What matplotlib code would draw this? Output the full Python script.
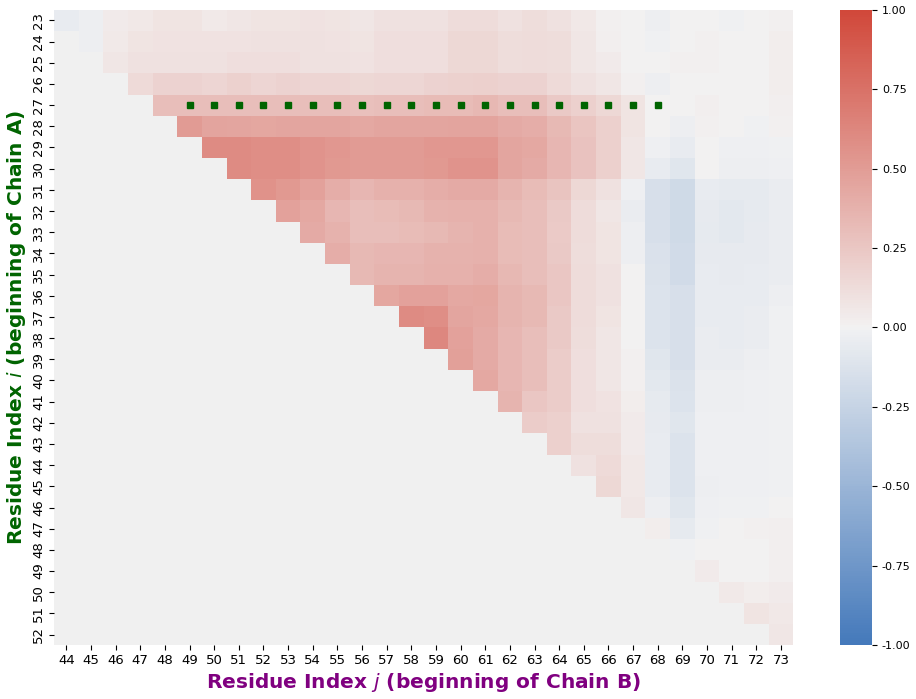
import numpy as np
import matplotlib
matplotlib.use('Agg')
import matplotlib.pyplot as plt
import seaborn as sns

#-------------------------------------
# Data: upper triangle, one list per row i (starting at the diagonal)
#-------------------------------------
rows_i = list(range(23, 53))
cols_j = list(range(44, 74))

upper_rows = [
    [-0.05, -0.03, 0.04, 0.06, 0.08, 0.08, 0.05, 0.07, 0.08, 0.08,
     0.09, 0.08, 0.07, 0.10, 0.10, 0.10, 0.13, 0.13, 0.10, 0.12,
     0.10, 0.06, 0.01, 0.0, -0.03, 0.0, 0.0, -0.01, 0.0, 0.01],
    [-0.03, 0.05, 0.08, 0.09, 0.09, 0.09, 0.09, 0.10, 0.10,
     0.10, 0.09, 0.08, 0.11, 0.11, 0.11, 0.15, 0.15, 0.12, 0.13,
     0.12, 0.07, 0.02, 0.0, -0.01, 0.0, 0.01, 0.0, 0.0, 0.03],
    [0.07, 0.10, 0.10, 0.10, 0.10, 0.11, 0.11, 0.11,
     0.10, 0.10, 0.09, 0.11, 0.11, 0.11, 0.15, 0.15, 0.12, 0.13,
     0.12, 0.07, 0.04, 0.0, 0.0, 0.01, 0.01, 0.0, 0.0, 0.03],
    [0.14, 0.18, 0.18, 0.17, 0.19, 0.17, 0.18,
     0.17, 0.17, 0.15, 0.16, 0.16, 0.18, 0.19, 0.20, 0.18, 0.18,
     0.14, 0.10, 0.07, 0.01, -0.03, 0.0, 0.0, 0.0, 0.0, 0.03],
    [0.30, 0.30, 0.30, 0.30, 0.30, 0.30,
     0.30, 0.30, 0.29, 0.30, 0.30, 0.32, 0.32, 0.34, 0.30, 0.30,
     0.24, 0.20, 0.15, 0.08, 0.0, 0.0, 0.02, 0.0, 0.0, 0.02],
    [0.50, 0.46, 0.45, 0.44, 0.45,
     0.45, 0.45, 0.43, 0.45, 0.45, 0.45, 0.46, 0.46, 0.42, 0.40,
     0.33, 0.26, 0.20, 0.08, 0.0, -0.03, 0.01, 0.0, -0.01, 0.01],
    [0.60, 0.60, 0.58, 0.58,
     0.55, 0.53, 0.50, 0.50, 0.50, 0.53, 0.53, 0.53, 0.45, 0.43,
     0.35, 0.28, 0.20, 0.07, -0.02, -0.05, 0.0, -0.02, -0.02, -0.01],
    [0.60, 0.58, 0.58,
     0.55, 0.52, 0.50, 0.50, 0.50, 0.52, 0.55, 0.55, 0.45, 0.42,
     0.35, 0.28, 0.20, 0.07, -0.05, -0.10, 0.0, -0.03, -0.03, -0.02],
    [0.56, 0.52,
     0.47, 0.40, 0.35, 0.38, 0.38, 0.40, 0.42, 0.42, 0.36, 0.32,
     0.27, 0.15, 0.10, -0.02, -0.15, -0.20, -0.05, -0.07, -0.07, -0.04],
    [0.47,
     0.43, 0.35, 0.30, 0.32, 0.33, 0.37, 0.38, 0.38, 0.33, 0.30,
     0.24, 0.13, 0.07, -0.04, -0.15, -0.20, -0.06, -0.08, -0.07, -0.04],
    [0.42, 0.37, 0.30, 0.30, 0.32, 0.33, 0.36, 0.38, 0.32, 0.30,
     0.23, 0.13, 0.08, -0.03, -0.15, -0.20, -0.07, -0.08, -0.06, -0.04],
    [0.40, 0.33, 0.35, 0.35, 0.37, 0.37, 0.38, 0.32, 0.30,
     0.24, 0.12, 0.08, -0.03, -0.14, -0.18, -0.06, -0.06, -0.06, -0.04],
    [0.33, 0.36, 0.36, 0.38, 0.38, 0.40, 0.34, 0.30,
     0.25, 0.13, 0.10, 0.0, -0.13, -0.18, -0.05, -0.06, -0.05, -0.04],
    [0.44, 0.47, 0.47, 0.43, 0.44, 0.36, 0.33,
     0.25, 0.13, 0.10, 0.0, -0.12, -0.15, -0.05, -0.05, -0.05, -0.03],
    [0.60, 0.58, 0.45, 0.43, 0.36, 0.33,
     0.24, 0.13, 0.08, 0.0, -0.12, -0.15, -0.05, -0.05, -0.04, -0.01],
    [0.62, 0.47, 0.42, 0.35, 0.30,
     0.24, 0.12, 0.07, 0.0, -0.12, -0.15, -0.04, -0.05, -0.04, -0.01],
    [0.48, 0.42, 0.35, 0.30,
     0.22, 0.11, 0.07, 0.01, -0.10, -0.15, -0.04, -0.04, -0.03, -0.01],
    [0.43, 0.35, 0.30,
     0.22, 0.11, 0.07, 0.01, -0.08, -0.13, -0.03, -0.03, -0.02, -0.01],
    [0.36, 0.25,
     0.22, 0.11, 0.09, 0.03, -0.07, -0.12, -0.03, -0.03, -0.02, -0.01],
    [0.22,
     0.20, 0.10, 0.10, 0.04, -0.06, -0.10, -0.02, -0.02, -0.02, -0.01],
    [0.20, 0.12, 0.12, 0.04, -0.05, -0.12, -0.02, -0.02, -0.02, -0.01],
    [0.10, 0.14, 0.06, -0.05, -0.12, -0.02, -0.02, -0.02, -0.01],
    [0.15, 0.06, -0.05, -0.12, -0.03, -0.02, -0.02, -0.01],
    [0.07, -0.03, -0.10, -0.02, -0.01, -0.01, 0.0],
    [0.03, -0.07, -0.01, 0.0, 0.01, 0.02],
    [-0.01, 0.0, 0.0, 0.0, 0.02],
    [0.04, 0.0, 0.0, 0.02],
    [0.05, 0.03, 0.04],
    [0.08, 0.06],
    [0.07],
]

# marked contacts along row i = 27
line_row = 27
line_cols = list(range(49, 69))

#-------------------------------------
# Build matrix (lower triangle left empty)
#-------------------------------------
n = len(rows_i)
corr = np.full((n, len(cols_j)), np.nan)
for k, vals in enumerate(upper_rows):
    corr[k, k:] = vals

#-------------------------------------
# Plot
#-------------------------------------
fig = plt.figure(figsize=(9.16, 6.99), dpi=100)
ax = fig.add_axes([0.059, 0.077, 0.807, 0.909])
cax = fig.add_axes([0.917, 0.077, 0.035, 0.909])

cmap = sns.diverging_palette(250, 15, as_cmap=True)
ax.set_facecolor('#f0f0f0')
sns.heatmap(corr, ax=ax, cbar_ax=cax, cmap=cmap, vmin=-1, vmax=1, center=0,
            xticklabels=cols_j, yticklabels=rows_i)

xs = [cols_j.index(c) + 0.5 for c in line_cols]
ys = [rows_i.index(line_row) + 0.5] * len(line_cols)
ax.plot(xs, ys, 's', color='darkgreen', ms=5)

ax.tick_params(axis='both', labelsize=9.5, pad=3)
plt.setp(ax.get_yticklabels(), rotation=90, va='center')
plt.setp(ax.get_xticklabels(), rotation=0)
ax.set_xlabel('Residue Index $j$ (beginning of Chain B)', fontsize=14.5,
              fontweight='bold', color='purple', labelpad=3)
ax.set_ylabel('Residue Index $i$ (beginning of Chain A)', fontsize=14.5,
              fontweight='bold', color='darkgreen', labelpad=3)

cax.tick_params(labelsize=8)
cax.set_yticks([-1, -0.75, -0.5, -0.25, 0, 0.25, 0.5, 0.75, 1])
cax.set_yticklabels(['%.2f' % t for t in [-1, -0.75, -0.5, -0.25, 0, 0.25, 0.5, 0.75, 1]])

fig.savefig('out.png', dpi=100)
